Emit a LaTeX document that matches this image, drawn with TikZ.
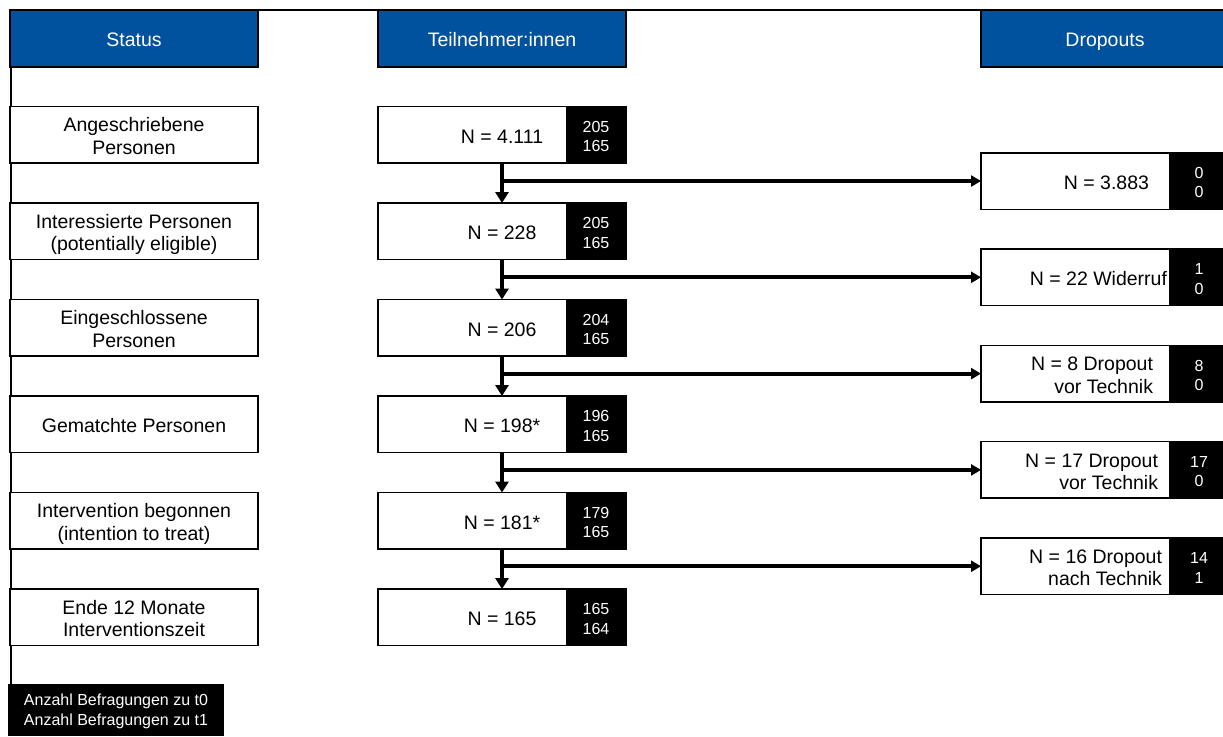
\documentclass[tikz,border=0pt]{standalone}
\usepackage{fontspec}
\setmainfont{Liberation Sans}
\usetikzlibrary{arrows.meta}
\definecolor{hdrblue}{HTML}{00519E}

% fixed first-line height and last-line depth, so every label sits at the
% same height in its box without disturbing the line spacing
\newcommand{\bigtop}{\rule{0pt}{20.7pt}}
\newcommand{\bigbot}{\rule[-4.2pt]{0pt}{4.2pt}}
\newcommand{\smalltop}{\rule{0pt}{17.8pt}}
\newcommand{\smallbot}{\rule[-3.4pt]{0pt}{3.4pt}}
\newcommand{\legtop}{\rule{0pt}{14.9pt}}
\newcommand{\legbot}{\rule[-3.5pt]{0pt}{3.5pt}}
\newcommand{\bt}[1]{\bigtop#1\bigbot}
\newcommand{\sn}[1]{\smalltop#1\smallbot}

\tikzset{
  x=1pt, y=-1pt,
  every node/.style={inner sep=0pt, outer sep=0pt},
  bigtext/.style={font=\fontsize{19.5}{22.3}\selectfont},
  box/.style={draw=black, line width=1.5pt, fill=white, minimum width=248pt,
    minimum height=56.5pt, align=center, bigtext},
  hdr/.style={box, fill=hdrblue, text=white, minimum height=57pt},
  cnt/.style={fill=black, text=white, minimum width=60pt, minimum height=56.5pt,
    align=center, font=\fontsize{16}{19.4}\selectfont},
  dtext/.style={anchor=east, align=right, bigtext},
  flow/.style={line width=4pt, -{Triangle[length=11pt,width=13pt]}},
  side/.style={line width=4pt, -{Triangle[length=10pt,width=11pt]}},
  frame/.style={line width=2pt},
}

\begin{document}
\begin{tikzpicture}
\useasboundingbox (0,0) rectangle (1223,736);
\clip (0,0) rectangle (1223,736);

% outer frame (top and left edge)
\draw[frame] (1223,9.5) -- (10.5,9.5) -- (10.5,684);

% column headers
\node[hdr] (hs) at (134,38.5)  {\bt{Status}};
\node[hdr] (ht) at (502,38.5)  {\bt{Teilnehmer:innen}};
\node[hdr] (hd) at (1105,38.5) {\bt{Dropouts}};

% status column
\node[box] (s1) at (134,134.8) {\bt{Angeschriebene\\Personen}};
\node[box] (s2) at (134,231.3) {\bt{Interessierte Personen\\(potentially eligible)}};
\node[box] (s3) at (134,327.8) {\bt{Eingeschlossene\\Personen}};
\node[box] (s4) at (134,424.3) {\bt{Gematchte Personen}};
\node[box] (s5) at (134,520.8) {\bt{Intervention begonnen\\(intention to treat)}};
\node[box] (s6) at (134,617.3) {\bt{Ende 12 Monate\\Interventionszeit}};

% participants column
\node[box] (m1) at (502,134.8) {\bt{N = 4.111}};
\node[box] (m2) at (502,231.3) {\bt{N = 228}};
\node[box] (m3) at (502,327.8) {\bt{N = 206}};
\node[box] (m4) at (502,424.3) {\bt{N = 198*}};
\node[box] (m5) at (502,520.8) {\bt{N = 181*}};
\node[box] (m6) at (502,617.3) {\bt{N = 165}};

\node[cnt] (c1) at (596,134.8) {\sn{205\\165}};
\node[cnt] (c2) at (596,231.3) {\sn{205\\165}};
\node[cnt] (c3) at (596,327.8) {\sn{204\\165}};
\node[cnt] (c4) at (596,424.3) {\sn{196\\165}};
\node[cnt] (c5) at (596,520.8) {\sn{179\\165}};
\node[cnt] (c6) at (596,617.3) {\sn{165\\164}};

% dropout column
\node[box] (d1) at (1105,181.0) {};
\node[box] (d2) at (1105,277.3) {};
\node[box] (d3) at (1105,373.6) {};
\node[box] (d4) at (1105,469.9) {};
\node[box] (d5) at (1105,566.2) {};

\node[dtext] (d1t) at (1149,181.0) {\bt{N = 3.883}};
\node[dtext] (d2t) at (1167,277.3) {\bt{N = 22 Widerruf}};
\node[dtext] (d3t) at (1153,373.6) {\bt{N = 8 Dropout\\vor Technik}};
\node[dtext] (d4t) at (1158,469.9) {\bt{N = 17 Dropout\\vor Technik}};
\node[dtext] (d5t) at (1162,566.2) {\bt{N = 16 Dropout\\nach Technik}};

\node[cnt] (e1) at (1199,181.0) {\sn{0\\0}};
\node[cnt] (e2) at (1199,277.3) {\sn{1\\0}};
\node[cnt] (e3) at (1199,373.6) {\sn{8\\0}};
\node[cnt] (e4) at (1199,469.9) {\sn{17\\0}};
\node[cnt] (e5) at (1199,566.2) {\sn{14\\1}};

% flow between stages
\draw[flow] (m1.south) -- (m2.north);
\draw[flow] (m2.south) -- (m3.north);
\draw[flow] (m3.south) -- (m4.north);
\draw[flow] (m4.south) -- (m5.north);
\draw[flow] (m5.south) -- (m6.north);

% branches to dropouts
\draw[side] (m1.south |- d1.west) -- (d1.west);
\draw[side] (m2.south |- d2.west) -- (d2.west);
\draw[side] (m3.south |- d3.west) -- (d3.west);
\draw[side] (m4.south |- d4.west) -- (d4.west);
\draw[side] (m5.south |- d5.west) -- (d5.west);

% legend
\node[fill=black, text=white, anchor=north west, minimum height=52pt,
      minimum width=216pt, align=left, font=\fontsize{16}{20}\selectfont]
      (leg) at (8,684)
  {\legtop Anzahl Befragungen zu t0\\Anzahl Befragungen zu t1\legbot};
\end{tikzpicture}
\end{document}
